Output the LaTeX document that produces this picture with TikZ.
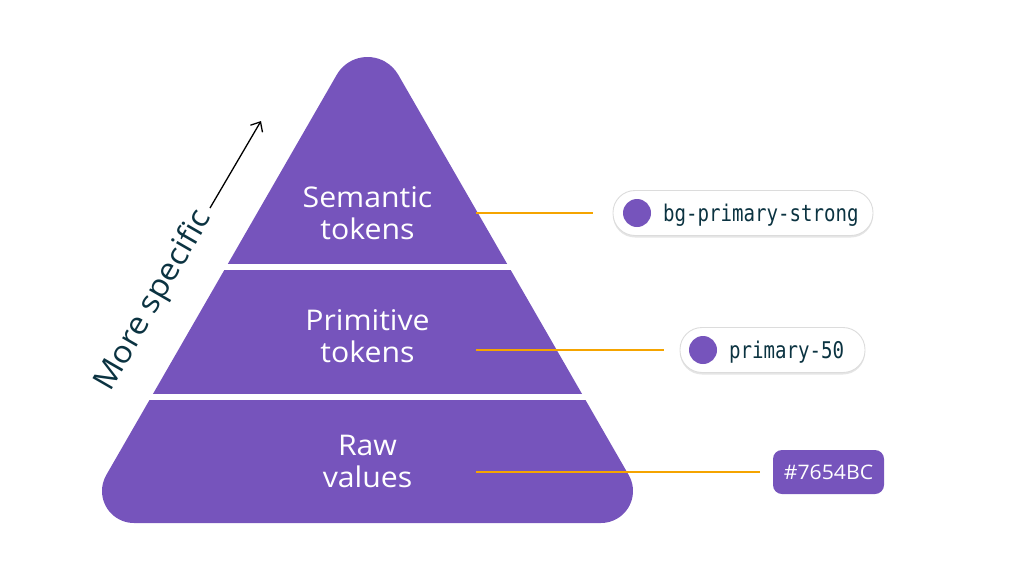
\documentclass[tikz,border=0pt]{standalone}
\usepackage{fontspec}
\usetikzlibrary{arrows.meta,shadows}
\newfontfamily\tierfont{Open Sans}[FakeStretch=1.06]
\newfontfamily\codefont{DejaVu Sans Mono}[FakeStretch=0.83]
\definecolor{tokpurple}{HTML}{7654BC}
\definecolor{inkteal}{HTML}{0B3341}
\definecolor{linkorange}{HTML}{F5A400}
\definecolor{pilledge}{HTML}{DCDCDC}

% outline of the whole pyramid (y runs downwards as negative values)
\newcommand\pyramidoutline{(336.76,-74.75) arc[start angle=150,end angle=30,radius=35.5]
  -- (628.7,-475) arc[start angle=30,end angle=-90,radius=32]
  -- (134,-523) arc[start angle=270,end angle=150,radius=32] -- cycle}

\tikzset{
  tierlabel/.style={text=white, align=center, inner sep=0pt,
    font=\tierfont\fontsize{28.5}{32}\selectfont},
  link/.style={draw=linkorange, line width=1.6pt},
  pill/.style={draw=pilledge, fill=white, line width=0.9pt, rounded corners=22pt,
    inner sep=0pt, minimum height=45pt,
    drop shadow={shadow xshift=0pt, shadow yshift=-2pt, opacity=0.10, fill=black}},
  swatch/.style={circle, fill=tokpurple, minimum size=28pt, inner sep=0pt},
  codelabel/.style={text=inkteal, inner sep=0pt, anchor=base west,
    font=\codefont\fontsize{23}{23}\selectfont},
  hexbox/.style={fill=tokpurple, rounded corners=9pt, minimum width=111pt,
    minimum height=44pt, inner sep=0pt, text=white,
    font=\tierfont\fontsize{20}{20}\selectfont},
}

\begin{document}
\begin{tikzpicture}[x=1pt,y=1pt]
\useasboundingbox (0,0) rectangle (1020,-581);

% the three tiers, cut out of the rounded pyramid
\begin{scope}
  \clip \pyramidoutline;
  \fill[tokpurple] (0,0) rectangle (1020,-264);
  \fill[tokpurple] (0,-270) rectangle (1020,-394);
  \fill[tokpurple] (0,-400) rectangle (1020,-600);
\end{scope}

% tier labels
\node[tierlabel] (sem) at (367.5,-213) {Semantic\\tokens};
\node[tierlabel] (prim) at (367.5,-336) {Primitive\\tokens};
\node[tierlabel] (raw) at (367.5,-461) {Raw\\values};

% example tokens
\node[pill, minimum width=260pt] (p1) at (743,-213) {};
\node[swatch] (d1) at (637,-213) {};
\node[codelabel] (c1) at (663,-221.5) {bg-primary-strong};

\node[pill, minimum width=185pt] (p2) at (772.5,-350) {};
\node[swatch] (d2) at (703,-350) {};
\node[codelabel] (c2) at (729,-358.5) {primary-50};

\node[hexbox] (h3) at (828.5,-472) {\#7654BC};

% connectors
\coordinate (s1) at (476,-213);
\coordinate (s2) at (476,-350);
\coordinate (s3) at (476,-472);
\draw[link, shorten >=20pt] (s1) -- (p1.west);
\draw[link, shorten >=16pt] (s2) -- (p2.west);
\draw[link, shorten >=13pt] (s3) -- (h3.west);

% specificity arrow
\node[rotate=60, anchor=base, text=inkteal, inner sep=0pt,
  font=\tierfont\fontsize{31}{31}\selectfont] (ms) at (161,-305) {More specific};
\coordinate (a0) at (210,-208);
\coordinate (a1) at (261,-121);
\draw[line width=1.3pt, -{Straight Barb[length=8pt,width=14pt]}] (a0) -- (a1);
\end{tikzpicture}
\end{document}
